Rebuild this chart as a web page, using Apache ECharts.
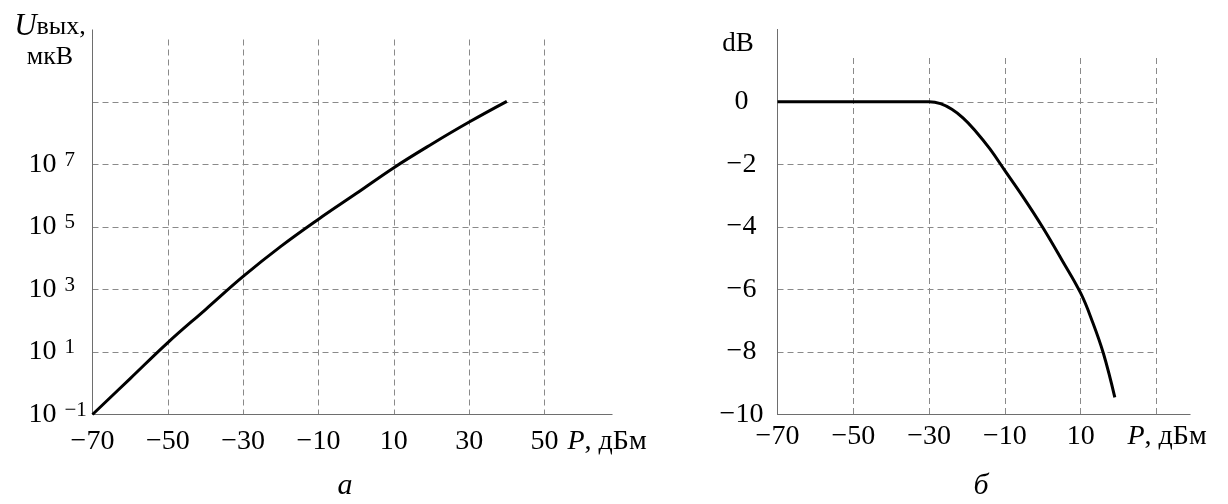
<!DOCTYPE html>
<html>
<head>
<meta charset="utf-8">
<script src="https://cdn.jsdelivr.net/npm/echarts@6/dist/echarts.min.js"></script>
<style>
  html, body { margin: 0; padding: 0; background: #fff; }
  #chart { width: 1228px; height: 504px; }
</style>
</head>
<body>
<div id="chart"></div>
<script>
// Panel а: output voltage (мкВ) against input power (дБм)
const powerA = [-70, -60, -50, -40, -30, -20, -10, 0, 10, 20, 30, 40];
const voltageUV = [0.1, 1.41, 20, 229, 2630, 24000, 178000, 1175000, 7940000, 44700000, 229000000, 1050000000];
const voltageDecades = [-1, 1, 3, 5, 7];      // labelled powers of ten

// Panel б: gain change (dB) against input power (дБм)
const powerB = [-70, -50, -35, -30, -27, -24, -21, -18, -14, -10, -5, 0, 5, 10, 13, 16, 19];
const gainDb = [0, 0, 0, 0, -0.06, -0.24, -0.52, -0.9, -1.5, -2.2, -3.08, -4.02, -5.05, -6.12, -7.0, -8.05, -9.45];

const FONT = 'Liberation Serif';
const AXIS_GREY = '#6e6e6e';
const GRID_GREY = '#8a8a8a';

const minus = v => (v < 0 ? '\u2212' : '') + Math.abs(v);

const seriesA = powerA.map((p, i) => [p, Math.log10(voltageUV[i])]);
const seriesB = powerB.map((p, i) => [p, gainDb[i]]);

// axis line that runs `len` px past the end of the plotting area
const axisLine = len => ({
  onZero: false,
  lineStyle: { color: AXIS_GREY, width: 1 },
  symbol: ['none', 'rect'],
  symbolSize: [1, len],
  symbolOffset: [0, len / 2]
});
const splitLine = (showMin, showMax) => ({
  show: true,
  showMinLine: showMin,
  showMaxLine: showMax,
  lineStyle: { color: GRID_GREY, type: [6, 4], width: 1 }
});
const tickLabel = {
  fontFamily: FONT,
  fontSize: 28,
  color: '#000'
};
const nameRich = {
  i: { fontFamily: FONT, fontSize: 28, fontStyle: 'italic', color: '#000' },
  r: { fontFamily: FONT, fontSize: 28, color: '#000' }
};

const chart = echarts.init(document.getElementById('chart'), null, { renderer: 'canvas' });

chart.setOption({
  animation: false,
  backgroundColor: '#fff',
  grid: [
    { left: 92.5, right: 683.5, top: 39.5, bottom: 89.5 },
    { left: 777.5, right: 71.5, top: 58, bottom: 89.5 }
  ],
  xAxis: [
    {
      gridIndex: 0, type: 'value', min: -70, max: 50, interval: 20,
      axisLine: axisLine(68),
      axisTick: { show: false },
      splitLine: splitLine(false, true),
      axisLabel: { ...tickLabel, margin: 13, formatter: minus },
      name: '{i|P}{r|, дБм}',
      nameLocation: 'end', nameGap: 23,
      nameTextStyle: { rich: nameRich, padding: [54, 0, 0, 0] }
    },
    {
      gridIndex: 1, type: 'value', min: -70, max: 30, interval: 20,
      axisLine: axisLine(34),
      axisTick: { show: false },
      splitLine: splitLine(false, true),
      axisLabel: { ...tickLabel, margin: 8, formatter: v => (v === 30 ? '' : minus(v)) },
      name: '{i|P}{r|, дБм}',
      nameLocation: 'end', nameGap: -29,
      nameTextStyle: { rich: nameRich, padding: [44, 0, 0, 0] }
    }
  ],
  yAxis: [
    {
      gridIndex: 0, type: 'value', min: -1, max: 11, interval: 2,
      axisLine: axisLine(10),
      axisTick: { show: false },
      splitLine: splitLine(false, false),
      axisLabel: {
        align: 'left', margin: 64,
        formatter: v => (voltageDecades.includes(v) ? '{b|10}{s|' + minus(v) + '}' : ''),
        rich: {
          b: { fontFamily: FONT, fontSize: 28, lineHeight: 30, color: '#000' },
          s: { fontFamily: FONT, fontSize: 21, lineHeight: 4, verticalAlign: 'top', padding: [0, 0, 0, 8], color: '#000' }
        }
      }
    },
    {
      gridIndex: 1, type: 'value', min: -10, max: 1.4, interval: 2,
      axisLine: axisLine(29),
      axisTick: { show: false },
      splitLine: splitLine(false, false),
      axisLabel: {
        ...tickLabel, align: 'center', margin: 36,
        formatter: v => (Number.isInteger(v) ? minus(v) : '')
      }
    }
  ],
  graphic: [
    {
      type: 'text', x: 50, y: 12,
      style: {
        text: '{u|U}{v|вых,}\n{m|мкВ}',
        align: 'center',
        rich: {
          u: { fontFamily: FONT, fontSize: 31, fontStyle: 'italic', lineHeight: 30, fill: '#000', color: '#000' },
          v: { fontFamily: FONT, fontSize: 26, lineHeight: 30, fill: '#000', color: '#000' },
          m: { fontFamily: FONT, fontSize: 26, lineHeight: 30, fill: '#000', color: '#000' }
        }
      }
    },
    {
      type: 'text', x: 738, y: 44,
      style: { text: 'dB', fontFamily: FONT, fontSize: 27, fill: '#000', align: 'center', verticalAlign: 'middle' }
    },
    {
      type: 'text', x: 345, y: 486,
      style: { text: 'а', fontFamily: FONT, fontSize: 30, fontStyle: 'italic', fill: '#000', align: 'center', verticalAlign: 'middle' }
    },
    {
      type: 'text', x: 981, y: 486,
      style: { text: 'б', fontFamily: FONT, fontSize: 30, fontStyle: 'italic', fill: '#000', align: 'center', verticalAlign: 'middle' }
    }
  ],
  series: [
    {
      type: 'line', xAxisIndex: 0, yAxisIndex: 0,
      data: seriesA, showSymbol: false, smooth: 0.4,
      lineStyle: { color: '#000', width: 3 }
    },
    {
      type: 'line', xAxisIndex: 1, yAxisIndex: 1,
      data: seriesB, showSymbol: false, smooth: 0.4,
      lineStyle: { color: '#000', width: 3 }
    }
  ]
});
</script>
</body>
</html>
